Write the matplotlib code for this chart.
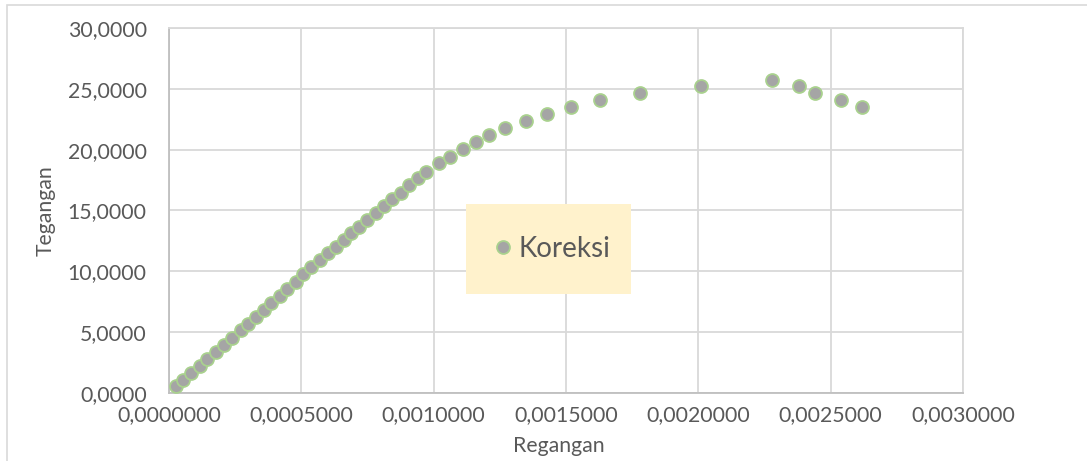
import matplotlib
matplotlib.use("Agg")
import matplotlib.pyplot as plt
from matplotlib.ticker import FuncFormatter, MultipleLocator
from matplotlib.patches import Rectangle

# strain (Regangan) and stress (Tegangan)
regangan = [0.0000279, 0.0000529, 0.0000846, 0.000116, 0.000145, 0.000179,
            0.000207, 0.000239, 0.000271, 0.000297, 0.000327, 0.000358,
            0.000387, 0.000418, 0.000447, 0.000478, 0.000506, 0.000535,
            0.000569, 0.000600, 0.000632, 0.000661, 0.000689, 0.000718,
            0.000749, 0.000781, 0.000812, 0.000844, 0.000875, 0.000906,
            0.000940, 0.000972, 0.001020, 0.001060, 0.001110, 0.001160,
            0.001210, 0.001270, 0.001350, 0.001430, 0.001520, 0.001630,
            0.001780, 0.002010, 0.002280, 0.002380, 0.002440, 0.002540,
            0.002620]
tegangan = [0.55, 1.05, 1.62, 2.20, 2.80, 3.37, 3.93, 4.53, 5.16, 5.71,
            6.26, 6.81, 7.41, 7.98, 8.53, 9.14, 9.74, 10.35, 10.92, 11.47,
            12.02, 12.57, 13.12, 13.66, 14.21, 14.81, 15.37, 15.92, 16.46,
            17.09, 17.65, 18.19, 18.88, 19.42, 20.03, 20.66, 21.21, 21.76,
            22.36, 22.94, 23.54, 24.09, 24.64, 25.24, 25.74, 25.24, 24.64,
            24.09, 23.49]
seri = "Koreksi"

text_col = "#595959"
grid_col = "#D9D9D9"

plt.rcParams['font.family'] = ['Lato', 'DejaVu Sans']

W, H = 1087, 461
fig = plt.figure(figsize=(W / 100, H / 100), dpi=100)
ax = fig.add_axes([169 / W, 1 - 393 / H, (963 - 169) / W, (393 - 28) / H])

# chart area border
fig.patches.append(Rectangle((7 / W, -0.1), 1.2, 1 - 5 / H + 0.1,
                             transform=fig.transFigure, fill=False,
                             edgecolor=grid_col, linewidth=1.2))

ax.plot(regangan, tegangan, 'o', color="#A5A5A5", markersize=9.3,
        markeredgecolor="#A9D18E", markeredgewidth=1.3, label=seri, zorder=3)

ax.set_xlim(0, 0.003)
ax.set_ylim(0, 30)
ax.xaxis.set_major_locator(MultipleLocator(0.0005))
ax.yaxis.set_major_locator(MultipleLocator(5))
ax.xaxis.set_major_formatter(FuncFormatter(lambda v, p: "{:.7f}".format(v).replace(".", ",")))
ax.yaxis.set_major_formatter(FuncFormatter(lambda v, p: "{:.4f}".format(v).replace(".", ",")))

ax.grid(True, color=grid_col, linewidth=1.3)
ax.set_axisbelow(True)
for s in ["top", "right"]:
  ax.spines[s].set_color(grid_col)
  ax.spines[s].set_linewidth(1.3)
for s in ["left", "bottom"]:
  ax.spines[s].set_color("#BFBFBF")
  ax.spines[s].set_linewidth(1.3)
ax.tick_params(length=0, labelsize=15.3, colors=text_col)
ax.tick_params(axis='y', pad=16)
ax.tick_params(axis='x', pad=9)

ax.set_xlabel("Regangan", fontsize=15.3, color=text_col)
ax.set_ylabel("Tegangan", fontsize=15.3, color=text_col)
ax.xaxis.set_label_coords((559 - 169) / (963 - 169), -(436 - 393) / (393 - 28))
ax.yaxis.set_label_coords(-(169 - 56) / (963 - 169), 0.5)

# legend box
fig.patches.append(Rectangle((466 / W, 1 - 294 / H), (631 - 466) / W, 90 / H,
                             transform=fig.transFigure, facecolor="#FFF2CC",
                             edgecolor="none", zorder=4))
leg = fig.legend(loc="center", bbox_to_anchor=(550 / W, 1 - 249 / H),
                 frameon=False, fontsize=20, handletextpad=0.05,
                 handlelength=1.0, labelcolor=text_col)
leg.set_zorder(5)

fig.savefig("out.png", dpi=100)
